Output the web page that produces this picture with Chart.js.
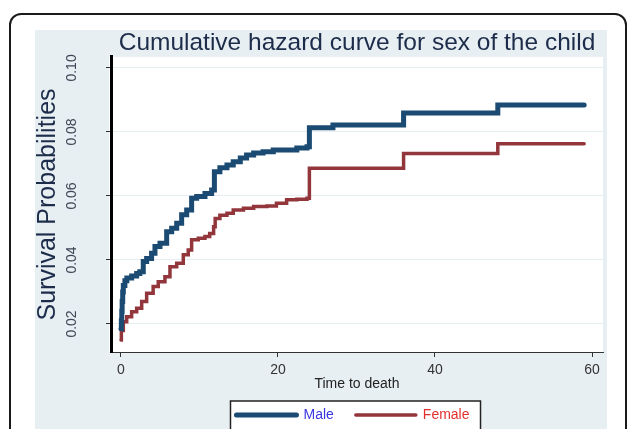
<!DOCTYPE html>
<html>
<head>
<meta charset="utf-8">
<script src="https://cdn.jsdelivr.net/npm/chart.js@4"></script>
<style>
  html, body { margin: 0; padding: 0; overflow: hidden; background: #fff; }
  .frame { position: absolute; left: 9px; top: 13px; width: 618px; height: 500px;
           box-sizing: border-box; border: 2px solid #1a1a1a; border-radius: 12px; }
  .panel { position: absolute; left: 35px; top: 30px; width: 572px; height: 420px; background: #e8eff2; }
  #chart { position: absolute; left: 0; top: 0; }
</style>
</head>
<body>
<div class="frame"></div>
<div class="panel"></div>
<canvas id="chart" width="629" height="432"></canvas>
<script>
// cumulative hazard, males
const maleTime = [0, 0.05, 0.1, 0.15, 0.22, 0.3, 0.5, 0.75, 1.36, 2.0, 2.4, 2.84, 3.27, 3.9, 4.33, 4.97,
  5.82, 6.46, 7.1, 7.73, 8.37, 9.0, 9.64, 10.7, 11.55, 11.9, 12.6, 13.5, 14.3, 15.2, 16.0, 16.9,
  18.1, 19.4, 22.4, 23.7, 24.0, 27.0, 36.0, 48.0, 59.0];
const maleHazard = [0.0185, 0.021, 0.024, 0.027, 0.030, 0.032, 0.0335, 0.0344, 0.035, 0.0358, 0.0363, 0.0395, 0.0405, 0.0421, 0.0442, 0.0452,
  0.0488, 0.0499, 0.0515, 0.0541, 0.0556, 0.0593, 0.0598, 0.0608, 0.0619, 0.0676, 0.0688, 0.0697, 0.0707, 0.0719, 0.0728, 0.0734,
  0.0738, 0.0744, 0.075, 0.0754, 0.0813, 0.0822, 0.0859, 0.0884, 0.0884];

// cumulative hazard, females
const femaleTime = [0, 0.05, 0.3, 0.73, 1.36, 2.0, 2.64, 3.27, 4.1, 4.75, 5.6, 6.24, 7.1, 7.94, 8.57, 9.0,
  9.85, 10.7, 11.3, 11.8, 12.0, 12.6, 13.5, 14.3, 15.6, 16.9, 18.6, 19.8, 21.1, 22.4, 23.7, 24.0,
  36.0, 48.0, 59.0];
const femaleHazard = [0.015, 0.018, 0.0207, 0.0223, 0.0238, 0.0249, 0.027, 0.0296, 0.0317, 0.0332, 0.0348, 0.0379, 0.039, 0.0416, 0.0431, 0.0463,
  0.0468, 0.0473, 0.0483, 0.0504, 0.053, 0.054, 0.0546, 0.0556, 0.0562, 0.0567, 0.0569, 0.0577, 0.0588, 0.059, 0.0593, 0.0687,
  0.0733, 0.0763, 0.0763];

const seriesNames = ['Male', 'Female'];
const xTicks = [0, 20, 40, 60];
const yTicks = [0.02, 0.04, 0.06, 0.08, 0.10];

const toPoints = (t, v) => t.map((x, i) => ({ x: x, y: v[i] }));

// white plot region and framed legend
const backdrop = {
  id: 'backdrop',
  afterLayout(chart) {
    // nudge the legend a little to the left, like the original
    chart.legend.left -= 4;
    chart.legend.right -= 4;
  },
  beforeDraw(chart) {
    const { ctx, chartArea: a, legend } = chart;
    ctx.save();
    ctx.fillStyle = '#ffffff';
    ctx.fillRect(a.left - 2, a.top, a.right - a.left + 2, a.bottom - a.top);
    const boxes = legend.legendHitBoxes;
    if (boxes && boxes.length) {
      const first = boxes[0], last = boxes[boxes.length - 1];
      const cy = first.top + first.height / 2;
      const x0 = first.left - 6, x1 = last.left + last.width + 11;
      ctx.fillRect(x0, cy - 14, x1 - x0, 40);
      ctx.strokeStyle = '#222';
      ctx.lineWidth = 1.5;
      ctx.strokeRect(x0, cy - 14, x1 - x0, 40);
    }
    ctx.restore();
  }
};

new Chart(document.getElementById('chart'), {
  type: 'line',
  data: {
    datasets: [{
      label: seriesNames[0],
      data: toPoints(maleTime, maleHazard),
      borderColor: '#1b4a72',
      borderWidth: 5,
      stepped: true,
      pointRadius: 0,
      borderCapStyle: 'round',
      fill: false
    }, {
      label: seriesNames[1],
      data: toPoints(femaleTime, femaleHazard),
      borderColor: '#93363c',
      borderWidth: 3.5,
      stepped: true,
      pointRadius: 0,
      borderCapStyle: 'round',
      fill: false
    }]
  },
  options: {
    responsive: false,
    animation: false,
    layout: { padding: { left: 0, right: 26, top: 30, bottom: 0 } },
    plugins: {
      tooltip: { enabled: false },
      title: {
        display: true,
        text: 'Cumulative hazard curve for sex of the child',
        fullSize: false,
        color: '#1c2c4a',
        font: { family: 'Liberation Sans, Arial, sans-serif', size: 24.5, weight: 'normal', lineHeight: 1.1 },
        padding: { top: 0, bottom: 0 }
      },
      legend: {
        position: 'bottom',
        fullSize: false,
        labels: {
          usePointStyle: true,
          pointStyle: 'line',
          pointStyleWidth: 60,
          boxWidth: 60,
          padding: 22,
          font: { family: 'Liberation Sans, Arial, sans-serif', size: 14 },
          generateLabels(chart) {
            const textColors = ['#3a36e0', '#e2302f'];
            return chart.data.datasets.map((ds, i) => ({
              text: ds.label,
              strokeStyle: ds.borderColor,
              fillStyle: ds.borderColor,
              lineWidth: ds.borderWidth,
              lineCap: 'round',
              pointStyle: 'line',
              fontColor: textColors[i],
              hidden: false,
              datasetIndex: i
            }));
          }
        }
      }
    },
    scales: {
      x: {
        type: 'linear',
        min: -1.27,
        max: 61.4,
        afterBuildTicks(scale) { scale.ticks = xTicks.map(v => ({ value: v })); },
        afterFit(scale) { scale.height = 34; },
        grid: { drawOnChartArea: false, tickLength: 5, tickColor: '#333', tickWidth: 1 },
        border: { display: true, color: '#333', width: 1 },
        ticks: {
          padding: 5,
          color: '#333',
          font: { family: 'Liberation Sans, Arial, sans-serif', size: 14 }
        },
        title: {
          display: true,
          text: 'Time to death',
          color: '#222',
          font: { family: 'Liberation Sans, Arial, sans-serif', size: 14, lineHeight: 1 },
          padding: { top: 0, bottom: -5 }
        }
      },
      y: {
        min: 0.01125,
        max: 0.10344,
        afterBuildTicks(scale) { scale.ticks = yTicks.map(v => ({ value: v })); },
        afterFit(scale) { scale.width = 111; },
        grid: { color: '#e5edf1', lineWidth: 1, tickLength: 5, tickColor: '#333', tickWidth: 1 },
        border: { display: true, color: '#000', width: 3 },
        ticks: {
          minRotation: 90,
          maxRotation: 90,
          crossAlign: 'center',
          padding: 20,
          color: '#3c4656',
          font: { family: 'Liberation Sans, Arial, sans-serif', size: 14 },
          callback: v => v.toFixed(2)
        },
        title: {
          display: true,
          text: 'Survival Probabilities',
          color: '#1c2c4a',
          font: { family: 'Liberation Sans, Arial, sans-serif', size: 25, lineHeight: 1.2 },
          padding: { top: 33, bottom: 0 }
        }
      }
    }
  },
  plugins: [backdrop]
});
</script>
</body>
</html>
